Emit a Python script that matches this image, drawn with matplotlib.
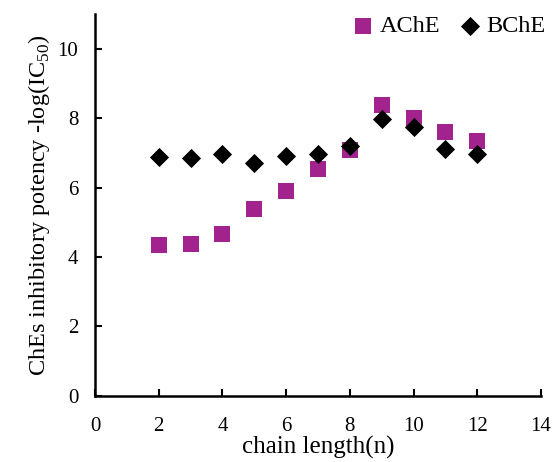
import numpy as np
import matplotlib.pyplot as plt

plt.rcParams['font.family'] = ['Liberation Serif', 'DejaVu Serif']
plt.rcParams['mathtext.fontset'] = 'custom'
plt.rcParams['mathtext.rm'] = 'Liberation Serif'

# chain length n
n = [2, 3, 4, 5, 6, 7, 8, 9, 10, 11, 12]
# -log(IC50) values
ache = [4.36, 4.37, 4.66, 5.38, 5.90, 6.55, 7.08, 8.39, 8.00, 7.61, 7.35]
bche = [6.89, 6.87, 6.97, 6.71, 6.91, 6.98, 7.20, 7.98, 7.75, 7.12, 6.98]

fig = plt.figure(figsize=(5.52, 4.62), dpi=100)
ax = fig.add_axes([0.172, 0.1435, 0.808, 0.8255])

ax.scatter(n, ache, marker='s', s=128, color='#A2238E', linewidths=0, label='AChE', zorder=2)
ax.scatter(n, bche, marker='D', s=95, color='black', linewidths=0, label='BChE', zorder=3)

ax.set_xlim(0, 14)
ax.set_ylim(0, 11)
ax.set_xticks(range(0, 15, 2))
ax.set_yticks(range(0, 11, 2))
ax.tick_params(direction='in', length=5, width=1.5, labelsize=15)
ax.tick_params(axis='x', pad=15)
ax.tick_params(axis='y', pad=12)
for s in ['top', 'right']:
    ax.spines[s].set_visible(False)
for s in ['left', 'bottom']:
    ax.spines[s].set_linewidth(1.8)

ax.set_xlabel('chain length(n)', fontsize=18, labelpad=0)
ax.set_ylabel('ChEs inhibitory potency -log(IC$_{50}$)', fontsize=17.5, labelpad=4)

ax.legend(loc='upper right', bbox_to_anchor=(546 / 552, 1 - 15 / 462),
          bbox_transform=fig.transFigure, borderaxespad=0, borderpad=0,
          ncol=2, frameon=False, fontsize=17.5, handlelength=0.8,
          handletextpad=0.3, columnspacing=0.8, markerscale=1.0)

fig.savefig('out.png', dpi=100)
